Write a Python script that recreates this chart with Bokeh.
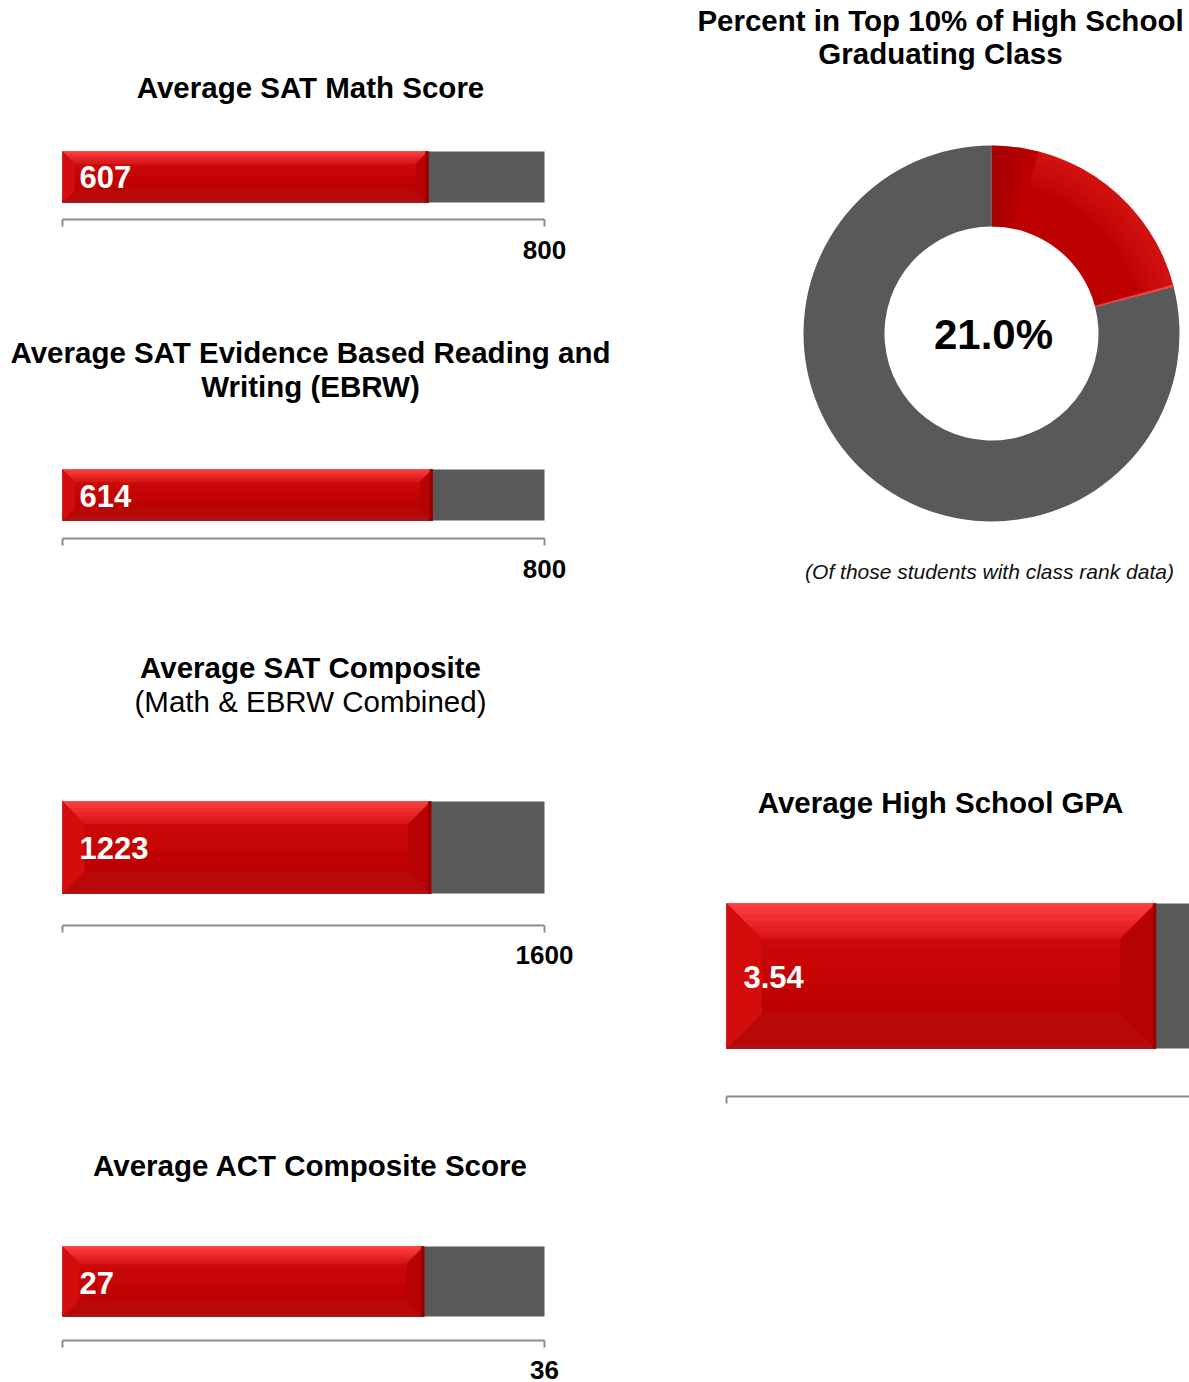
import math
from bokeh.plotting import figure
from bokeh.layouts import row, column
from bokeh.models import Range1d, Label
from bokeh.embed import file_html
from bokeh.resources import INLINE
from bokeh.core.properties import value

FONT = "Liberation Sans"

# ---------------- data ----------------
bar_titles = [
    ["Average SAT Math Score"],
    ["Average SAT Evidence Based Reading and", "Writing (EBRW)"],
    ["Average SAT Composite"],
    ["Average ACT Composite Score"],
    ["Average High School GPA"],
]
bar_subtitles = [None, None, "(Math & EBRW Combined)", None, None]
bar_values = [607, 614, 1223, 27, 3.54]
bar_max = [800, 800, 1600, 36, 4]
bar_value_labels = ["607", "614", "1223", "27", "3.54"]
bar_max_labels = ["800", "800", "1600", "36", "4"]

donut_title = ["Percent in Top 10% of High School", "Graduating Class"]
donut_categories = ["Top 10%", "Other"]
donut_shares = [21.0, 79.0]
donut_label = "21.0%"
donut_note = "(Of those students with class rank data)"

# ---------------- layout (screen coordinates, text y = visual centre) ----------------
LEFT_W, RIGHT_W = 620, 569
panels = [
    dict(left=0, top=0, w=LEFT_W, h=300, x0=62, px=482, bt=151, bb=202, axis=219,
         cx=310, tb=[88], sub=None, vb=177, mb=250),
    dict(left=0, top=300, w=LEFT_W, h=320, x0=62, px=482, bt=469, bb=520, axis=538,
         cx=310, tb=[353, 387], sub=None, vb=496, mb=569),
    dict(left=0, top=620, w=LEFT_W, h=480, x0=62, px=482, bt=801, bb=893, axis=925,
         cx=310, tb=[668], sub=702, vb=848, mb=955),
    dict(left=0, top=1100, w=LEFT_W, h=282, x0=62, px=482, bt=1246, bb=1316, axis=1340,
         cx=310, tb=[1166], sub=None, vb=1283, mb=1370),
    dict(left=620, top=620, w=RIGHT_W, h=762, x0=726, px=485, bt=903, bb=1048, axis=1096,
         cx=940, tb=[803], sub=None, vb=977, mb=1130),
]
TEXT_SHIFT = -0.7  # empirical: rendered centre ~ param + 0.7

TITLE_PX = 29.5
RED_FACE_TOP = (204, 8, 8)
RED_FACE_BOT = (190, 0, 0)
TOP_BEVEL_A = (255, 60, 60)
TOP_BEVEL_B = (222, 24, 24)
GRAY = "#595959"
AXIS_COLOR = "#8c8c8c"


def mix(c1, c2, t):
    return "#%02x%02x%02x" % tuple(int(round(a + (b - a) * t)) for a, b in zip(c1, c2))


def base_fig(w, h, xr, yr):
    p = figure(width=w, height=h, x_range=xr, y_range=yr, output_backend="svg",
               toolbar_location=None, x_axis_location=None, y_axis_location=None,
               min_border=0, min_border_left=0, min_border_right=0,
               min_border_top=0, min_border_bottom=0)
    p.outline_line_color = None
    p.grid.visible = False
    p.background_fill_color = "white"
    p.border_fill_color = "white"
    return p


def add_label(p, text, x, y, size, bold=True, italic=False, color="black", align="center"):
    style = "bold" if bold else "normal"
    if italic:
        style = "italic"
    p.add_layout(Label(x=x, y=y, x_units="screen", y_units="screen", text=text,
                       text_font=FONT, text_font_size=f"{size}px", text_font_style=style,
                       text_color=color, text_align=align, text_baseline="alphabetic"))


def bar_panel(i):
    L = panels[i]
    m = bar_max[i]
    v = bar_values[i]
    upp = m / L["px"]  # data units per pixel
    xr = Range1d((L["left"] - L["x0"]) * upp, (L["left"] + L["w"] - L["x0"]) * upp)
    H = L["h"]
    yr = Range1d(0, H)
    p = base_fig(L["w"], H, xr, yr)

    def Y(sy):
        return L["top"] + H - sy

    def T(sy):
        return Y(sy + TEXT_SHIFT)

    yt, yb = Y(L["bt"]), Y(L["bb"])
    bh = yt - yb
    b = bh * 0.24
    bx = b * upp

    # background (max) bar
    p.quad(left=[0], right=[m], bottom=[yb], top=[yt], fill_color=GRAY, line_color=None)

    xs, ys, cols = [], [], []
    # face gradient
    n = 8
    for k in range(n):
        y1 = yt - b - (bh - 2 * b) * k / n
        y2 = yt - b - (bh - 2 * b) * (k + 1) / n
        xs.append([bx, v - bx, v - bx, bx])
        ys.append([y1, y1, y2, y2])
        cols.append(mix(RED_FACE_TOP, RED_FACE_BOT, k / (n - 1)))
    # top bevel (gradient strips)
    n = 6
    for k in range(n):
        y1 = yt - b * k / n
        y2 = yt - b * (k + 1) / n
        i1 = bx * k / n
        i2 = bx * (k + 1) / n
        xs.append([i1, v - i1, v - i2, i2])
        ys.append([y1, y1, y2, y2])
        cols.append(mix(TOP_BEVEL_A, TOP_BEVEL_B, k / (n - 1)))
    # bottom bevel
    xs.append([bx, v - bx, v, 0]); ys.append([yb + b, yb + b, yb, yb]); cols.append("#b80808")
    xs.append([0, v, v, 0]); ys.append([yb + 2.5, yb + 2.5, yb, yb]); cols.append("#a81414")
    # left bevel
    xs.append([0, bx, bx, 0]); ys.append([yt, yt - b, yb + b, yb]); cols.append("#d40c0c")
    # right bevel
    xs.append([v, v, v - bx, v - bx]); ys.append([yt, yb, yb + b, yt - b]); cols.append("#b60202")
    xs.append([v - 2.5 * upp, v, v, v - 2.5 * upp]); ys.append([yt, yt, yb, yb]); cols.append("#950000")
    p.patches(xs=xs, ys=ys, fill_color=cols, line_color=cols, line_width=0.6)

    # axis bracket
    ay = Y(L["axis"])
    p.segment(x0=[0, 0, m], y0=[ay, ay, ay], x1=[m, 0, m], y1=[ay, ay - 7, ay - 7],
              line_color=AXIS_COLOR, line_width=2)

    # texts
    p.text(x=[0], y=[T(L["vb"])], text=[bar_value_labels[i]], x_offset=17,
           text_font=value(FONT), text_font_style="bold", text_font_size="31px",
           text_color="white", text_align="left", text_baseline="alphabetic")
    p.text(x=[m], y=[T(L["mb"])], text=[bar_max_labels[i]],
           text_font=value(FONT), text_font_style="bold", text_font_size="26px",
           text_color="black", text_align="center", text_baseline="alphabetic")
    for line, tb in zip(bar_titles[i], L["tb"]):
        add_label(p, line, L["cx"] - L["left"], T(tb), TITLE_PX)
    if bar_subtitles[i] and L["sub"]:
        add_label(p, bar_subtitles[i], L["cx"] - L["left"], T(L["sub"]), TITLE_PX, bold=False)
    return p


def donut_panel():
    left, top, w, h = 620, 0, RIGHT_W, 620
    p = base_fig(w, h, Range1d(0, w), Range1d(0, h))

    def Y(sy):
        return top + h - sy

    def T(sy):
        return Y(sy + TEXT_SHIFT)

    cx, cy = 991 - left, Y(333)
    r_in, r_out = 107, 188
    total = sum(donut_shares)
    starts, ends = [], []
    acc = 0.0
    for s in donut_shares:
        starts.append(math.pi / 2 - 2 * math.pi * acc / total)
        acc += s
        ends.append(math.pi / 2 - 2 * math.pi * acc / total)
    colors = ["#bc0000", GRAY]
    p.annular_wedge(x=[cx, cx], y=[cy, cy], inner_radius=r_in, outer_radius=r_out,
                    inner_radius_units="screen", outer_radius_units="screen",
                    start_angle=starts, end_angle=ends, direction="clock",
                    fill_color=colors, line_color=None)
    # soft shading of the red slice
    a0, a1 = starts[0], ends[0]
    for k in range(6):
        r1 = r_out - 36 + 6 * k
        p.annular_wedge(x=[cx], y=[cy], inner_radius=r1, outer_radius=r_out,
                        inner_radius_units="screen", outer_radius_units="screen",
                        start_angle=[a0 - 0.25], end_angle=[a1], direction="clock",
                        fill_color="#e62424", fill_alpha=0.12, line_color=None)
    for k in range(4):
        p.annular_wedge(x=[cx], y=[cy], inner_radius=r_in, outer_radius=r_out,
                        inner_radius_units="screen", outer_radius_units="screen",
                        start_angle=[a0], end_angle=[a0 - 0.05 * (k + 1)], direction="clock",
                        fill_color="#8a0000", fill_alpha=0.12, line_color=None)
    p.annular_wedge(x=[cx], y=[cy], inner_radius=r_in, outer_radius=r_out,
                    inner_radius_units="screen", outer_radius_units="screen",
                    start_angle=[a1 + 0.012], end_angle=[a1], direction="clock",
                    fill_color="#ff4d4d", fill_alpha=0.8, line_color=None)

    p.text(x=[cx + 2], y=[T(335)], text=[donut_label], text_font=value(FONT),
           text_font_style="bold", text_font_size="42px", text_color="black",
           text_align="center", text_baseline="alphabetic")
    add_label(p, donut_title[0], 940 - left, T(21), TITLE_PX)
    add_label(p, donut_title[1], 940 - left, T(54), TITLE_PX)
    add_label(p, donut_note, 989 - left, T(572), 21, bold=False, italic=True, color="#111111")
    return p


left_col = column(bar_panel(0), bar_panel(1), bar_panel(2), bar_panel(3), spacing=0)
right_col = column(donut_panel(), bar_panel(4), spacing=0)
layout = row(left_col, right_col, spacing=0)

open("out.html", "w").write(file_html(layout, INLINE))
